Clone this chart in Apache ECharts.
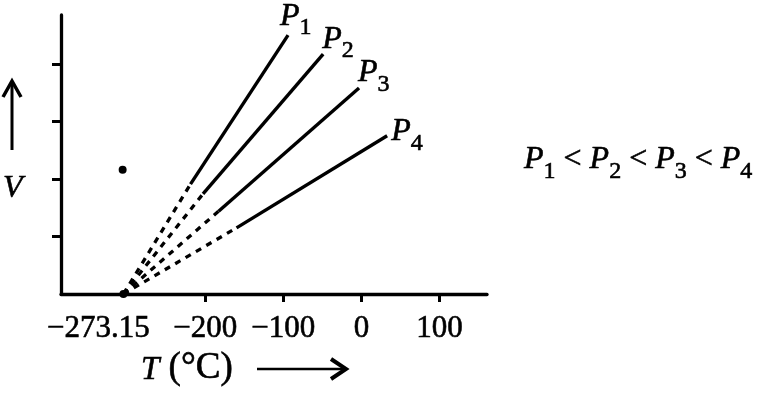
<!DOCTYPE html>
<html><head><meta charset="utf-8">
<script src="https://cdn.jsdelivr.net/npm/echarts@6/dist/echarts.min.js"></script>
<style>html,body{margin:0;padding:0;background:#fff}#c{width:763px;height:415px}</style>
</head><body><div id="c"></div>
<script>
// ---- data (in the picture's axis units) ----
const isobarIndex = ['1', '2', '3', '4'];
const absZeroT = -305;            // where the picture puts absolute zero on its T axis
const absZeroLabel = '−273.15';
const solidStartT = [-219, -203, -183, -160];
const solidStartV = [1.91, 1.74, 1.44, 1.15];
const solidEndT = [-94, -49, -3, 33];
const solidEndV = [4.50, 4.17, 3.58, 2.75];
const xTickValues = [-200, -100, 0, 100];
const xTickLabels = ['−200', '−100', '0', '100'];
const yTickValues = [1, 2, 3, 4];
const strayDot = [-306, 2.16];

// ---- styles ----
const SERIF = '"Liberation Serif", "Times New Roman", serif';
const INK = { textBorderColor: '#000', textBorderWidth: 0.6 };       // for series / axis labels
const GINK = { stroke: '#000', lineWidth: 0.6, fill: '#000' };          // for graphic text tokens
const labelOffsets = [[-8, -27], [-1, -23], [-1, -23], [4, -12]];
const pRich = {
  p: Object.assign({ fontFamily: SERIF, fontStyle: 'italic', fontSize: 32, lineHeight: 32, padding: [0, 0, 8, 0], verticalAlign: 'bottom', color: '#000' }, INK),
  s: Object.assign({ fontFamily: SERIF, fontSize: 24, lineHeight: 24, verticalAlign: 'bottom', color: '#000' }, INK)
};
const gRich = {
  p: Object.assign({ fontFamily: SERIF, fontStyle: 'italic', fontSize: 32, lineHeight: 32, padding: [0, 0, 8, 0], verticalAlign: 'bottom' }, GINK),
  s: Object.assign({ fontFamily: SERIF, fontSize: 24, lineHeight: 24, verticalAlign: 'bottom' }, GINK),
  o: Object.assign({ fontFamily: SERIF, fontSize: 32, lineHeight: 32, padding: [0, 0, 8, 0], verticalAlign: 'bottom' }, GINK),
  t: Object.assign({ fontFamily: SERIF, fontStyle: 'italic', fontSize: 33, lineHeight: 37, verticalAlign: 'bottom' }, GINK),
  r: Object.assign({ fontFamily: SERIF, fontSize: 37, lineHeight: 37, verticalAlign: 'bottom' }, GINK)
};

const series = [];
isobarIndex.forEach((k, i) => {
  series.push({
    type: 'line', silent: true, symbol: 'none',
    data: [[absZeroT, 0], [solidStartT[i], solidStartV[i]]],
    lineStyle: { color: '#000', width: 3.3, type: [6, 6], cap: 'butt' }
  });
  series.push({
    type: 'line', silent: true, symbol: 'circle', symbolSize: 1, showSymbol: true,
    itemStyle: { color: 'rgba(0,0,0,0)' },
    lineStyle: { color: '#000', width: 3.4 },
    data: [
      [solidStartT[i], solidStartV[i]],
      {
        value: [solidEndT[i], solidEndV[i]],
        label: {
          show: true, position: 'inside', align: 'left', verticalAlign: 'top',
          offset: labelOffsets[i],
          formatter: '{p|P}{s|' + k + '}', rich: pRich
        }
      }
    ]
  });
});
series.push({
  type: 'scatter', silent: true, symbol: 'circle', symbolSize: 8,
  itemStyle: { color: '#000', opacity: 1 },
  data: [[absZeroT, 0], strayDot]
});

const chart = echarts.init(document.getElementById('c'), null, { renderer: 'canvas' });
chart.setOption({
  backgroundColor: '#fff',
  animation: false,
  grid: { left: 61, right: 276, top: 15, bottom: 121, outerBoundsMode: 'none', containLabel: false },
  xAxis: {
    type: 'value', min: -385, max: 161,
    axisLine: { show: true, onZero: false, lineStyle: { color: '#000', width: 3.3 } },
    axisTick: { show: true, customValues: xTickValues, length: 8, lineStyle: { color: '#000', width: 3 } },
    axisLabel: {
      show: true, customValues: [absZeroT].concat(xTickValues), margin: 19,
      fontFamily: SERIF, fontSize: 31, color: '#000',
      formatter: function (v) {
        if (v === absZeroT) return '{z|' + absZeroLabel + '}';
        const idx = xTickValues.indexOf(v);
        return idx >= 0 ? '{n|' + xTickLabels[idx] + '}' : '';
      },
      rich: {
        z: Object.assign({ fontFamily: SERIF, fontSize: 31, color: '#000', padding: [0, 50, 0, 0] }, INK),
        n: Object.assign({ fontFamily: SERIF, fontSize: 31, color: '#000' }, INK)
      }
    },
    splitLine: { show: false }
  },
  yAxis: {
    type: 'value', min: 0, max: 4.85,
    axisLine: { show: true, onZero: false, lineStyle: { color: '#000', width: 3.3 } },
    axisTick: { show: true, customValues: yTickValues, length: 9, lineStyle: { color: '#000', width: 3 } },
    axisLabel: { show: false },
    splitLine: { show: false }
  },
  graphic: [
    { type: 'polyline', silent: true, shape: { points: [[12, 150], [12, 83]] }, style: { stroke: '#000', lineWidth: 3, fill: null } },
    { type: 'polyline', silent: true, shape: { points: [[3, 97], [12, 81], [21, 97]] }, style: { stroke: '#000', lineWidth: 3.5, fill: null } },
    { type: 'text', silent: true, x: 3, y: 173, style: { text: 'V', font: 'italic 32px ' + SERIF, fill: '#000', stroke: '#000', lineWidth: 0.6, align: 'left', verticalAlign: 'top' } },
    { type: 'text', silent: true, x: 141, y: 350, style: {
        text: '{t|T}{r| (°C)}', align: 'left', verticalAlign: 'top', rich: gRich
    } },
    { type: 'polyline', silent: true, shape: { points: [[257, 369], [345, 369]] }, style: { stroke: '#000', lineWidth: 2.5, fill: null } },
    { type: 'polyline', silent: true, shape: { points: [[331, 359], [346, 369], [331, 379]] }, style: { stroke: '#000', lineWidth: 4, fill: null } },
    { type: 'text', silent: true, x: 524, y: 152, style: {
        text: '{p|P}{s|1}{o| < }{p|P}{s|2}{o| < }{p|P}{s|3}{o| < }{p|P}{s|4}',
        align: 'left', verticalAlign: 'top', rich: gRich
    } }
  ],
  series: series
});
</script></body></html>
